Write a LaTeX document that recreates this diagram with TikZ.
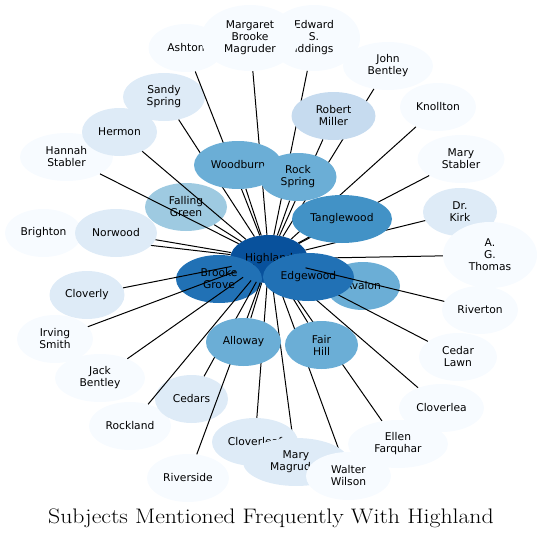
\documentclass[tikz,border=0pt]{standalone}
\usepackage{fontspec}
\newfontfamily\nodefont{DejaVu Sans}
\usepackage{tikz}
\usetikzlibrary{arrows,%
                shapes,positioning}
\definecolor{bl1}{HTML}{F7FBFF}
\definecolor{bl2}{HTML}{DEEBF7}
\definecolor{bl3}{HTML}{C6DBEF}
\definecolor{bl4}{HTML}{9ECAE1}
\definecolor{bl5}{HTML}{6BAED6}
\definecolor{bl6}{HTML}{4292C6}
\definecolor{bl7}{HTML}{2171B5}
\definecolor{bl8}{HTML}{08519C}
\pgfdeclarelayer{l0}
\pgfdeclarelayer{l1}
\pgfdeclarelayer{l2}
\pgfdeclarelayer{l3}
\pgfdeclarelayer{l4}
\pgfdeclarelayer{l5}
\pgfsetlayers{l0,l1,l2,l3,main,l4,l5}

\begin{document}
\begin{tikzpicture}[
x=1pt, y=-1pt,
subj/.style={ellipse, inner sep=0pt, minimum height=48pt, align=center,
  font=\nodefont\fontsize{10.7}{12}\selectfont},
tall/.style={minimum height=66pt},
wd/.style={minimum width=#1pt},
s1/.style={subj, fill=bl1},
s2/.style={subj, fill=bl2},
s3/.style={subj, fill=bl3},
s4/.style={subj, fill=bl4},
s5/.style={subj, fill=bl5},
s6/.style={subj, fill=bl6},
s7/.style={subj, fill=bl7},
s8/.style={subj, fill=bl8},
link/.style={line width=1pt}]
\useasboundingbox (0,0) rectangle (542,538);

\begin{pgfonlayer}{l0}
\node [s8,wd=78] (hl) at (269,259) {Highland};
\end{pgfonlayer}
\begin{pgfonlayer}{l1}
\node [s4,wd=82] (fg) at (186,207) {Falling\\Green};
\node [s5,wd=74] (av) at (363,286) {Avalon};
\end{pgfonlayer}
\begin{pgfonlayer}{l3}
\node [s7,wd=86] (bg) at (219,279) {Brooke\\Grove};
\node [s7,wd=91] (ed) at (308.5,277) {Edgewood};
\end{pgfonlayer}

\node [s1,wd=75] (ash) at (186,48) {Ashton};
\node [s1,tall,wd=92] (esi) at (314,38) {Edward\\S.\\Iddings};
\node [s1,tall,wd=98] (mbm) at (250,38) {Margaret\\Brooke\\Magruder};
\node [s1,wd=90] (jb) at (388,66) {John\\Bentley};
\node [s1,wd=76] (kn) at (438,107) {Knollton};
\node [s1,wd=87] (ms) at (461,159) {Mary\\Stabler};
\node [s2,wd=74] (dk) at (460,212) {Dr.\\Kirk};
\node [s1,tall,wd=94] (agt) at (490,255) {A.\\G.\\Thomas};
\node [s1,wd=76] (rv) at (480,310) {Riverton};
\node [s1,wd=78] (cl) at (458,357) {Cedar\\Lawn};
\node [s1,wd=85] (cla) at (441.5,408) {Cloverlea};
\node [s1,wd=100] (ef) at (398,444) {Ellen\\Farquhar};
\node [s2,wd=86] (clf) at (255,442) {Cloverleaf};
\node [s2,wd=106] (mm) at (296,462) {Mary\\Magruder};
\node [s1,wd=85] (ww) at (348.5,476) {Walter\\Wilson};
\node [s1,wd=82] (rsd) at (188,478) {Riverside};
\node [s1,wd=76] (is) at (55,339) {Irving\\Smith};
\node [s1,wd=90] (jkb) at (100,378) {Jack\\Bentley};
\node [s1,wd=82] (rkl) at (130,426) {Rockland};
\node [s2,wd=73] (cd) at (191.5,399) {Cedars};
\node [s2,wd=75] (cly) at (87,295) {Cloverly};
\node [s1,wd=77] (br) at (43.5,233) {Brighton};
\node [s2,wd=82] (nw) at (116,233) {Norwood};
\node [s1,wd=93] (hs) at (66.5,157) {Hannah\\Stabler};
\node [s2,wd=82] (ss) at (164,97) {Sandy\\Spring};
\node [s2,wd=75] (hm) at (119.5,132) {Hermon};

\begin{pgfonlayer}{l5}
\node [s5,wd=88] (wb) at (238,165) {Woodburn};
\node [s3,wd=84] (rm) at (333.5,116) {Robert\\Miller};
\node [s5,wd=77] (rs) at (298,177) {Rock\\Spring};
\node [s6,wd=100] (tw) at (342,219) {Tanglewood};
\node [s5,wd=75] (al) at (243.5,342) {Alloway};
\node [s5,wd=73] (fh) at (321.5,345) {Fair\\Hill};
\end{pgfonlayer}

\begin{pgfonlayer}{l0}
\foreach \v in {fg,bg,ed,av}
  \draw [link] (hl) -- (\v);
\end{pgfonlayer}
\begin{pgfonlayer}{l2}
\foreach \v in {cl,cla,agt,ef,ww,mm,clf,fh,al,br}
  \draw [link] (hl) -- (\v);
\end{pgfonlayer}
\begin{pgfonlayer}{l4}
\foreach \v in {ash,mbm,esi,jb,kn,ms,dk,rv,rsd,rkl,cd,jkb,is,cly,nw,hs,hm,ss,wb,rm,rs,tw}
  \draw [link] (hl) -- (\v);
\end{pgfonlayer}

\node [anchor=base, font=\fontsize{21}{25}\selectfont] (title) at (271,523)
  {\scalebox{1.13}[1]{Subjects Mentioned Frequently With Highland}};
\end{tikzpicture}
\end{document}
